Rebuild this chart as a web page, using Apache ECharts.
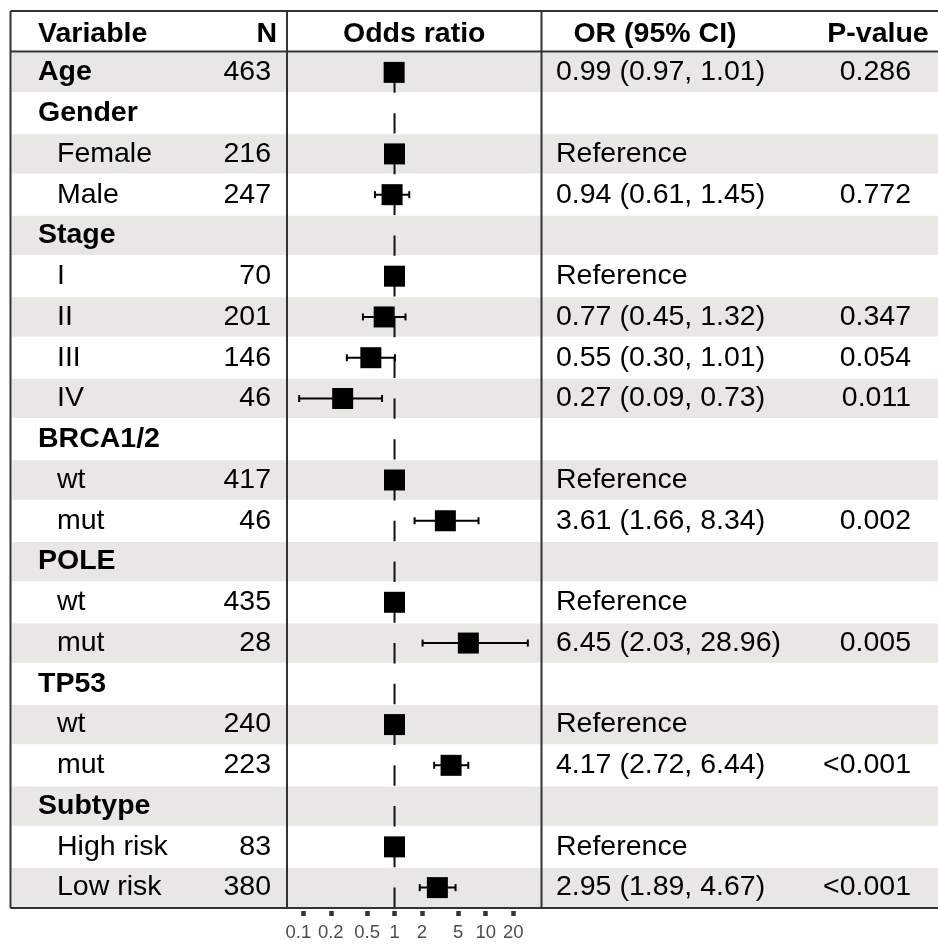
<!DOCTYPE html>
<html><head><meta charset="utf-8">
<script src="https://cdn.jsdelivr.net/npm/echarts@6/dist/echarts.min.js"></script>
<style>html,body{margin:0;padding:0;background:#fff}#c{width:938px;height:944px}</style>
</head><body><div id="c"></div>
<script>
// ---------- data ----------
const variables = ['Age','Gender','Female','Male','Stage','I','II','III','IV','BRCA1/2','wt','mut','POLE','wt','mut','TP53','wt','mut','Subtype','High risk','Low risk'];
const isGroup   = [1,1,0,0,1,0,0,0,0,1,0,0,1,0,0,1,0,0,1,0,0];
const nValues   = [463,null,216,247,null,70,201,146,46,null,417,46,null,435,28,null,240,223,null,83,380];
const orValues  = [0.99,null,1,0.94,null,1,0.77,0.55,0.27,null,1,3.61,null,1,6.45,null,1,4.17,null,1,2.95];
const ciLower   = [0.97,null,null,0.61,null,null,0.45,0.30,0.09,null,null,1.66,null,null,2.03,null,null,2.72,null,null,1.89];
const ciUpper   = [1.01,null,null,1.45,null,null,1.32,1.01,0.73,null,null,8.34,null,null,28.96,null,null,6.44,null,null,4.67];
const orText    = ['0.99 (0.97, 1.01)','','Reference','0.94 (0.61, 1.45)','','Reference','0.77 (0.45, 1.32)','0.55 (0.30, 1.01)','0.27 (0.09, 0.73)','','Reference','3.61 (1.66, 8.34)','','Reference','6.45 (2.03, 28.96)','','Reference','4.17 (2.72, 6.44)','','Reference','2.95 (1.89, 4.67)'];
const pText     = ['0.286','','','0.772','','','0.347','0.054','0.011','','','0.002','','','0.005','','','<0.001','','','<0.001'];
const headers   = ['Variable','N','Odds ratio','OR (95% CI)','P-value'];
const tickValues = [0.1,0.2,0.5,1,2,5,10,20];
const refValue = 1;

// ---------- layout ----------
const W = 938, H = 944;
const TOP = 52, BOT = 908, LEFT = 10.5, HEAD_TOP = 11;
const COL1 = 287, COL2 = 541.5;
const ROWS = variables.length;
const ROW_H = (BOT - TOP) / ROWS;
const FONT = '"Liberation Sans", Arial, Helvetica, sans-serif';
const FS = 28.5;
const TXT = '#000';
const LINE = '#333';
const BAND = '#e8e7e3';
const X_VAR_G = 38, X_VAR_S = 57, X_N = 271, X_OR = 556, X_P = 911;
const AX_MIN = 0.0662, AX_MAX = 40.9;
const lg = Math.log10;

const rowIds = variables.map((_, i) => 'r' + i);

function textSeries(items, align) {
  return {
    type: 'scatter', xAxisIndex: 1, yAxisIndex: 1, symbolSize: 1, silent: true,
    itemStyle: { color: 'rgba(0,0,0,0)', opacity: 1 },
    label: { show: true, position: 'inside', align: align, verticalAlign: 'middle', opacity: 1,
             formatter: '{b}', fontSize: FS, fontFamily: FONT, color: TXT },
    data: items, z: 5
  };
}

const varItems = variables.map((v, i) => ({
  name: v, value: [isGroup[i] ? X_VAR_G : X_VAR_S, i],
  label: { fontWeight: isGroup[i] ? 'bold' : 'normal' }
}));
const nItems = nValues.map((v, i) => v == null ? null : ({ name: String(v), value: [X_N, i] })).filter(Boolean);
const orItems = orText.map((t, i) => t ? ({ name: t, value: [X_OR, i] }) : null).filter(Boolean);
const pItems = pText.map((t, i) => t ? ({ name: t, value: [X_P, i] }) : null).filter(Boolean);

const bandData = rowIds.map((_, i) => i % 2 === 0 ? 1 : 0);
// odds ratios are placed on a log10 scale
const squareData = orValues.map((v, i) => v == null ? null : [lg(v), i]).filter(Boolean);
const ciData = ciLower.map((lo, i) => lo == null ? null : [lg(lo), lg(ciUpper[i]), i]).filter(Boolean);

const lines = [
  [LEFT, HEAD_TOP, W + 2, HEAD_TOP],
  [LEFT, TOP - 0.5, W + 2, TOP - 0.5],
  [LEFT, BOT, W + 2, BOT],
  [LEFT, HEAD_TOP, LEFT, BOT],
  [COL1, HEAD_TOP, COL1, BOT],
  [COL2, HEAD_TOP, COL2, BOT]
].map(l => ({ type: 'line', silent: true, z: 50,
  shape: { x1: l[0], y1: l[1], x2: l[2], y2: l[3] },
  style: { stroke: LINE, lineWidth: 2 } }));

const headY = 34.5;
const headPos = [[X_VAR_G, 'left'], [277, 'right'], [(COL1 + COL2) / 2, 'center'], [655, 'center'], [878, 'center']];
const headTexts = headers.map((h, k) => ({ type: 'text', silent: true, z: 50,
  style: { text: h, x: headPos[k][0], y: headY, align: headPos[k][1], verticalAlign: 'middle',
           font: 'bold ' + FS + 'px ' + FONT, fill: TXT } }));

// split alternate ticks onto two overlaid axes so close labels are never dropped
const ticksA = tickValues.filter((_, k) => k % 2 === 0).map(lg);
const ticksB = tickValues.filter((_, k) => k % 2 === 1).map(lg);
function tickText(v) {
  const s = String(+Math.pow(10, v).toPrecision(2));
  return Math.abs(v - lg(tickValues[0])) < 1e-9 ? '{first|' + s + '}' : s;
}
function forestAxis(ticks) {
  return { gridIndex: 2, type: 'value', min: lg(AX_MIN), max: lg(AX_MAX), offset: 3, position: 'bottom', show: true,
    splitLine: { show: false }, axisLine: { show: false },
    axisTick: { show: true, customValues: ticks, length: 5, lineStyle: { width: 4.5, color: LINE } },
    axisLabel: { show: true, customValues: ticks, margin: 12, fontSize: 18.5, fontFamily: FONT, color: '#4d4d4d',
                 showMinLabel: true, showMaxLabel: true, hideOverlap: false,
                 rich: { first: { fontSize: 18.5, fontFamily: FONT, color: '#4d4d4d', padding: [0, 10, 0, 0] } },
                 formatter: tickText } };
}

const option = {
  animation: false,
  backgroundColor: '#fff',
  grid: [
    { left: LEFT + 1, right: 0, top: TOP, height: BOT - TOP },
    { left: 0, right: 0, top: TOP, height: BOT - TOP },
    { left: COL1, width: COL2 - COL1, top: TOP, height: BOT - TOP }
  ],
  xAxis: [
    { gridIndex: 0, type: 'value', min: 0, max: 1, show: false },
    { gridIndex: 1, type: 'value', min: 0, max: W, show: false },
    forestAxis(ticksA),
    forestAxis(ticksB)
  ],
  yAxis: [0, 1, 2].map(g => ({ gridIndex: g, type: 'category', data: rowIds, inverse: true, show: false })),
  series: [
    { type: 'bar', xAxisIndex: 0, yAxisIndex: 0, data: bandData, barWidth: ROW_H - 1.5, silent: true,
      itemStyle: { color: BAND }, z: 1 },
    textSeries(varItems, 'left'),
    textSeries(nItems, 'right'),
    textSeries(orItems, 'left'),
    textSeries(pItems, 'right'),
    { type: 'custom', xAxisIndex: 2, yAxisIndex: 2, silent: true, z: 8,
      data: [[lg(refValue), 0]],
      encode: { x: 0, y: 1 },
      renderItem: function (params, api) {
        const p = api.coord([api.value(0), 0]);
        const cs = params.coordSys;
        return { type: 'line', shape: { x1: p[0], y1: cs.y, x2: p[0], y2: cs.y + cs.height },
          style: { stroke: '#111', lineWidth: 2, lineDash: [ROW_H / 2, ROW_H / 2], lineDashOffset: ROW_H / 2 } };
      }
    },
    { type: 'custom', xAxisIndex: 2, yAxisIndex: 2, silent: true, z: 10,
      encode: { x: [0, 1], y: 2 },
      data: ciData,
      renderItem: function (params, api) {
        const a = api.coord([api.value(0), api.value(2)]);
        const b = api.coord([api.value(1), api.value(2)]);
        const c = 3.5;
        const st = { stroke: '#000', lineWidth: 2 };
        return { type: 'group', children: [
          { type: 'line', shape: { x1: a[0], y1: a[1], x2: b[0], y2: b[1] }, style: st },
          { type: 'line', shape: { x1: a[0], y1: a[1] - c, x2: a[0], y2: a[1] + c }, style: st },
          { type: 'line', shape: { x1: b[0], y1: b[1] - c, x2: b[0], y2: b[1] + c }, style: st }
        ] };
      }
    },
    { type: 'scatter', xAxisIndex: 2, yAxisIndex: 2, symbol: 'rect', symbolSize: 21, silent: true, z: 20,
      itemStyle: { color: '#000', opacity: 1 }, data: squareData }
  ],
  graphic: lines.concat(headTexts)
};

const chart = echarts.init(document.getElementById('c'), null, { renderer: 'canvas' });
chart.setOption(option);
</script>
</body></html>
